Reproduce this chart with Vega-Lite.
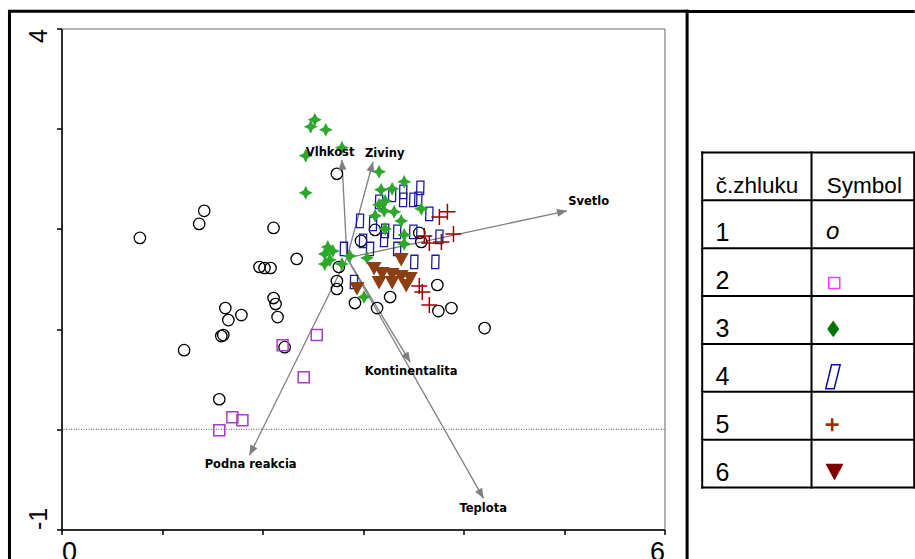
{
  "$schema": "https://vega.github.io/schema/vega-lite/v6.json",
  "background": "white",
  "padding": {"left": 6.5, "top": 7.5, "right": 0, "bottom": 0},
  "autosize": {"type": "pad"},
  "bounds": "flush",
  "spacing": 37.7,
  "config": {"view": {"stroke": null}, "font": "Liberation Sans"},
  "data": {"values": [{"one": 1}]},
  "datasets": {
    "pts": [
      {"c":1,"x":0.78,"y":1.91},{"c":1,"x":1.42,"y":2.18},{"c":1,"x":1.37,"y":2.05},{"c":1,"x":2.11,"y":2.01},{"c":1,"x":2.34,"y":1.70},{"c":1,"x":1.97,"y":1.62},{"c":1,"x":2.02,"y":1.61},{"c":1,"x":2.08,"y":1.61},{"c":1,"x":2.11,"y":1.31},{"c":1,"x":2.13,"y":1.25},{"c":1,"x":2.15,"y":1.12},{"c":1,"x":1.63,"y":1.21},{"c":1,"x":1.66,"y":1.09},{"c":1,"x":1.79,"y":1.14},{"c":1,"x":1.61,"y":0.94},{"c":1,"x":1.59,"y":0.93},{"c":1,"x":1.22,"y":0.79},{"c":1,"x":2.22,"y":0.82},{"c":1,"x":1.57,"y":0.30},{"c":1,"x":2.74,"y":2.55},{"c":1,"x":3.12,"y":1.99},{"c":1,"x":2.98,"y":1.88},{"c":1,"x":3.56,"y":1.96},{"c":1,"x":3.58,"y":1.87},{"c":1,"x":2.76,"y":1.62},{"c":1,"x":2.74,"y":1.48},{"c":1,"x":2.74,"y":1.40},{"c":1,"x":2.92,"y":1.26},{"c":1,"x":3.14,"y":1.21},{"c":1,"x":3.27,"y":1.32},{"c":1,"x":3.74,"y":1.44},{"c":1,"x":3.75,"y":1.18},{"c":1,"x":3.88,"y":1.21},{"c":1,"x":4.21,"y":1.01},
      {"c":2,"x":1.57,"y":-0.01},{"c":2,"x":1.70,"y":0.12},{"c":2,"x":1.80,"y":0.09},{"c":2,"x":2.20,"y":0.84},{"c":2,"x":2.54,"y":0.94},{"c":2,"x":2.41,"y":0.52},
      {"c":3,"x":2.52,"y":3.09},{"c":3,"x":2.48,"y":3.02},{"c":3,"x":2.63,"y":2.99},{"c":3,"x":2.79,"y":2.81},{"c":3,"x":2.43,"y":2.73},{"c":3,"x":2.43,"y":2.36},{"c":3,"x":3.16,"y":2.57},{"c":3,"x":3.41,"y":2.47},{"c":3,"x":3.18,"y":2.39},{"c":3,"x":3.29,"y":2.40},{"c":3,"x":3.22,"y":2.28},{"c":3,"x":3.16,"y":2.24},{"c":3,"x":3.21,"y":2.18},{"c":3,"x":3.31,"y":2.17},{"c":3,"x":3.12,"y":2.13},{"c":3,"x":3.38,"y":2.08},{"c":3,"x":3.58,"y":2.20},{"c":3,"x":3.22,"y":2.00},{"c":3,"x":3.41,"y":1.94},{"c":3,"x":3.41,"y":1.85},{"c":3,"x":2.65,"y":1.82},{"c":3,"x":2.70,"y":1.78},{"c":3,"x":2.62,"y":1.75},{"c":3,"x":2.67,"y":1.69},{"c":3,"x":2.62,"y":1.65},{"c":3,"x":2.79,"y":1.65},{"c":3,"x":2.87,"y":1.73},{"c":3,"x":3.04,"y":1.71},{"c":3,"x":3.01,"y":1.32},
      {"c":4,"x":3.57,"y":2.41},{"c":4,"x":3.40,"y":2.37},{"c":4,"x":3.29,"y":2.34},{"c":4,"x":3.16,"y":2.27},{"c":4,"x":3.40,"y":2.29},{"c":4,"x":3.50,"y":2.29},{"c":4,"x":3.55,"y":2.30},{"c":4,"x":3.66,"y":2.15},{"c":4,"x":2.97,"y":2.08},{"c":4,"x":3.10,"y":2.05},{"c":4,"x":3.22,"y":1.98},{"c":4,"x":3.34,"y":1.97},{"c":4,"x":3.50,"y":1.97},{"c":4,"x":3.76,"y":1.92},{"c":4,"x":3.00,"y":1.88},{"c":4,"x":3.07,"y":1.80},{"c":4,"x":3.21,"y":1.89},{"c":4,"x":2.81,"y":1.80},{"c":4,"x":3.34,"y":1.80},{"c":4,"x":3.51,"y":1.67},{"c":4,"x":3.72,"y":1.67},{"c":4,"x":2.91,"y":1.47},
      {"c":5,"x":3.76,"y":2.12},{"c":5,"x":3.84,"y":2.17},{"c":5,"x":3.61,"y":1.93},{"c":5,"x":3.66,"y":1.86},{"c":5,"x":3.78,"y":1.87},{"c":5,"x":3.90,"y":1.95},{"c":5,"x":3.56,"y":1.43},{"c":5,"x":3.59,"y":1.37},{"c":5,"x":3.66,"y":1.24},
      {"c":6,"x":3.38,"y":1.70},{"c":6,"x":3.11,"y":1.61},{"c":6,"x":3.19,"y":1.56},{"c":6,"x":3.29,"y":1.55},{"c":6,"x":3.38,"y":1.53},{"c":6,"x":3.47,"y":1.51},{"c":6,"x":3.16,"y":1.47},{"c":6,"x":3.29,"y":1.47},{"c":6,"x":3.43,"y":1.44},{"c":6,"x":2.94,"y":1.41}
    ],
    "arrows": [
      {"n":"Vlhkost","x":2.79,"y":2.69,"lx":2.673,"ly":2.757},
      {"n":"Ziviny","x":3.10,"y":2.67,"lx":3.216,"ly":2.744},
      {"n":"Svetlo","x":5.03,"y":2.18,"lx":5.246,"ly":2.265},
      {"n":"Kontinentalita","x":3.47,"y":0.67,"lx":3.479,"ly":0.569},
      {"n":"Teplota","x":4.20,"y":-0.69,"lx":4.196,"ly":-0.795},
      {"n":"Podna reakcia","x":1.87,"y":-0.26,"lx":1.882,"ly":-0.356}
    ],
    "hlines": [{"r":-1},{"r":0},{"r":1},{"r":2},{"r":3},{"r":4},{"r":5},{"r":6}],
    "vlines": [{"c":0},{"c":0.5156},{"c":1}],
    "rows": [{"k":1},{"k":2},{"k":3},{"k":4},{"k":5},{"k":6}]
  },
  "hconcat": [
    {
      "width": 603,
      "height": 501,
      "view": {"stroke": "#666", "strokeWidth": 1},
      "layer": [
        {
          "mark": {"type": "rule", "color": "black", "strokeWidth": 3},
          "encoding": {
            "x": {"datum": -0.5177, "type": "quantitative", "scale": {"domain": [0, 6], "nice": false, "zero": false},
              "axis": {"title": null, "values": [0,1,2,3,4,5,6], "labelExpr": "datum.value == 0 ? '0' : datum.value == 6 ? '6' : ''", "labelFlush": true, "labelOverlap": false, "labelFontSize": 27, "labelPadding": 5, "tickSize": 5, "grid": false, "domainColor": "black", "domainWidth": 1.5, "tickColor": "black", "tickWidth": 1.5, "labelColor": "black", "labelFont": "Liberation Sans"}},
            "y": {"datum": -1.30, "type": "quantitative", "scale": {"domain": [-1, 4], "nice": false, "zero": false},
              "axis": {"title": null, "values": [-1,0,1,2,3,4], "labelExpr": "datum.value == 4 ? '4\u2009' : datum.value == -1 ? '\u2009-1' : ''", "labelAngle": 270, "labelAlign": {"condition": {"test": "datum.value == 4", "value": "right"}, "value": "left"}, "labelBaseline": "alphabetic", "labelOverlap": false, "labelFontSize": 25, "labelPadding": 10, "tickSize": 5, "grid": false, "domainColor": "black", "domainWidth": 1.5, "tickColor": "black", "tickWidth": 1.5, "labelColor": "black", "labelFont": "Liberation Sans"}},
            "y2": {"datum": 4.187, "type": "quantitative"}
          }
        },
        {
          "mark": {"type": "rule", "color": "black", "strokeWidth": 3},
          "encoding": {
            "x": {"datum": 6.225, "type": "quantitative"},
            "y": {"datum": -1.30, "type": "quantitative"},
            "y2": {"datum": 4.187, "type": "quantitative"}
          }
        },
        {
          "mark": {"type": "rule", "color": "black", "strokeWidth": 3},
          "encoding": {
            "x": {"datum": -0.5177, "type": "quantitative"},
            "x2": {"datum": 6.24, "type": "quantitative"},
            "y": {"datum": 4.172, "type": "quantitative"}
          }
        },
        {
          "mark": {"type": "rule", "color": "#555", "strokeWidth": 1, "strokeDash": [1, 1.5]},
          "encoding": {"y": {"datum": 0, "type": "quantitative"}}
        },
        {
          "data": {"name": "arrows"},
          "mark": {"type": "rule", "color": "#7f7f7f", "strokeWidth": 1.3},
          "encoding": {
            "x": {"datum": 2.84, "type": "quantitative"},
            "y": {"datum": 1.71, "type": "quantitative"},
            "x2": {"field": "x", "type": "quantitative"},
            "y2": {"field": "y", "type": "quantitative"}
          }
        },
        {
          "data": {"name": "pts"},
          "transform": [{"filter": "datum.c == 1"}],
          "mark": {"type": "point", "shape": "circle", "filled": false, "color": "black", "strokeWidth": 1.3, "size": 130, "opacity": 1},
          "encoding": {"x": {"field": "x", "type": "quantitative"}, "y": {"field": "y", "type": "quantitative"}}
        },
        {
          "data": {"name": "pts"},
          "transform": [{"filter": "datum.c == 2"}],
          "mark": {"type": "point", "shape": "square", "filled": false, "color": "#a83bbf", "strokeWidth": 1.5, "size": 121, "opacity": 1},
          "encoding": {"x": {"field": "x", "type": "quantitative"}, "y": {"field": "y", "type": "quantitative"}}
        },
        {
          "data": {"name": "pts"},
          "transform": [{"filter": "datum.c == 4"}],
          "mark": {"type": "point", "shape": "M-0.55,1L-0.5,-1L0.55,-1L0.5,1Z", "filled": false, "color": "#1b1b9a", "strokeWidth": 1.3, "size": 180, "opacity": 1},
          "encoding": {"x": {"field": "x", "type": "quantitative"}, "y": {"field": "y", "type": "quantitative"}}
        },
        {
          "data": {"name": "pts"},
          "transform": [{"filter": "datum.c == 3"}],
          "mark": {"type": "point", "shape": "M0,-1L0.33,-0.33L1,0L0.33,0.33L0,1L-0.33,0.33L-1,0L-0.33,-0.33Z", "filled": true, "color": "#2ea82a", "size": 196, "opacity": 1},
          "encoding": {"x": {"field": "x", "type": "quantitative"}, "y": {"field": "y", "type": "quantitative"}}
        },
        {
          "data": {"name": "pts"},
          "transform": [{"filter": "datum.c == 5"}],
          "mark": {"type": "point", "shape": "M-1,0L1,0M0,-1L0,1", "filled": false, "color": "#990000", "strokeWidth": 1.5, "size": 256, "opacity": 1},
          "encoding": {"x": {"field": "x", "type": "quantitative"}, "y": {"field": "y", "type": "quantitative"}}
        },
        {
          "data": {"name": "pts"},
          "transform": [{"filter": "datum.c == 6"}],
          "mark": {"type": "point", "shape": "M-1,-0.8L1,-0.8L0,1Z", "filled": true, "color": "#8c3f12", "size": 225, "opacity": 1},
          "encoding": {"x": {"field": "x", "type": "quantitative"}, "y": {"field": "y", "type": "quantitative"}}
        },
        {
          "data": {"name": "arrows"},
          "transform": [{"calculate": "atan2((datum.x - 2.84) * 100.45, (datum.y - 1.71) * 100.2) * 180 / PI", "as": "ang"}],
          "mark": {"type": "point", "shape": "M0,0L-0.8,2L0.8,2Z", "filled": true, "color": "#7f7f7f", "size": 100, "opacity": 1, "strokeWidth": 0},
          "encoding": {
            "x": {"field": "x", "type": "quantitative"},
            "y": {"field": "y", "type": "quantitative"},
            "angle": {"field": "ang", "type": "quantitative", "scale": null}
          }
        },
        {
          "data": {"name": "arrows"},
          "mark": {"type": "text", "font": "DejaVu Sans", "fontWeight": "bold", "fontSize": 11.5, "color": "black", "align": "center", "baseline": "middle"},
          "encoding": {
            "x": {"field": "lx", "type": "quantitative"},
            "y": {"field": "ly", "type": "quantitative"},
            "text": {"field": "n", "type": "nominal"}
          }
        }
      ]
    },
    {
      "width": 212,
      "height": 459,
      "view": {"stroke": null},
      "layer": [
        {
          "mark": {"type": "rule", "color": "black", "strokeWidth": 3},
          "encoding": {
            "x": {"datum": -0.0726, "type": "quantitative", "scale": {"domain": [0, 1], "nice": false, "zero": false}, "axis": null},
            "x2": {"datum": 1.0024, "type": "quantitative"},
            "y": {"datum": -3.946, "type": "quantitative", "scale": {"domain": [-3.591, 6], "reverse": true, "nice": false, "zero": false}, "axis": null}
          }
        },
        {
          "data": {"name": "hlines"},
          "mark": {"type": "rule", "color": "black", "strokeWidth": 2, "strokeCap": "square"},
          "encoding": {
            "x": {"datum": 0, "type": "quantitative", "axis": null},
            "x2": {"datum": 1, "type": "quantitative"},
            "y": {"field": "r", "type": "quantitative", "axis": null}
          }
        },
        {
          "data": {"name": "vlines"},
          "mark": {"type": "rule", "color": "black", "strokeWidth": 2, "strokeCap": "square"},
          "encoding": {
            "x": {"field": "c", "type": "quantitative", "axis": null},
            "y": {"datum": -1, "type": "quantitative", "axis": null},
            "y2": {"datum": 6, "type": "quantitative"}
          }
        },
        {
          "mark": {"type": "text", "text": "č.zhluku", "font": "Liberation Sans", "fontSize": 22.5, "align": "left", "baseline": "alphabetic", "dy": -7, "color": "black"},
          "encoding": {
            "x": {"datum": 0.064, "type": "quantitative", "axis": null},
            "y": {"datum": 0, "type": "quantitative", "axis": null}
          }
        },
        {
          "mark": {"type": "text", "text": "Symbol", "font": "Liberation Sans", "fontSize": 22.5, "align": "left", "baseline": "alphabetic", "dy": -7, "color": "black"},
          "encoding": {
            "x": {"datum": 0.588, "type": "quantitative", "axis": null},
            "y": {"datum": 0, "type": "quantitative", "axis": null}
          }
        },
        {
          "data": {"name": "rows"},
          "mark": {"type": "text", "font": "Liberation Sans", "fontSize": 25, "align": "left", "baseline": "alphabetic", "dy": -7, "color": "black"},
          "encoding": {
            "x": {"datum": 0.063, "type": "quantitative", "axis": null},
            "y": {"field": "k", "type": "quantitative", "axis": null},
            "text": {"field": "k", "type": "nominal"}
          }
        },
        {
          "mark": {"type": "text", "text": "o", "font": "Liberation Sans", "fontStyle": "italic", "fontSize": 24, "align": "center", "baseline": "alphabetic", "dy": -9, "color": "black"},
          "encoding": {
            "x": {"datum": 0.615, "type": "quantitative", "axis": null},
            "y": {"datum": 1, "type": "quantitative", "axis": null}
          }
        },
        {
          "mark": {"type": "point", "shape": "square", "filled": false, "color": "#ff33ff", "strokeWidth": 1.5, "size": 121, "opacity": 1, "yOffset": -13},
          "encoding": {
            "x": {"datum": 0.623, "type": "quantitative", "axis": null},
            "y": {"datum": 2, "type": "quantitative", "axis": null}
          }
        },
        {
          "mark": {"type": "point", "shape": "M0,-1L0.72,0L0,1L-0.72,0Z", "filled": true, "color": "#007300", "size": 279, "opacity": 1, "yOffset": -15},
          "encoding": {
            "x": {"datum": 0.618, "type": "quantitative", "axis": null},
            "y": {"datum": 3, "type": "quantitative", "axis": null}
          }
        },
        {
          "mark": {"type": "point", "shape": "M-0.14,-1L0.58,-1L0.08,1L-0.62,1Z", "filled": false, "color": "#10109a", "strokeWidth": 1.5, "size": 576, "opacity": 1, "yOffset": -15},
          "encoding": {
            "x": {"datum": 0.618, "type": "quantitative", "axis": null},
            "y": {"datum": 4, "type": "quantitative", "axis": null}
          }
        },
        {
          "mark": {"type": "point", "shape": "M-1,-0.2L-0.2,-0.2L-0.2,-1L0.2,-1L0.2,-0.2L1,-0.2L1,0.2L0.2,0.2L0.2,1L-0.2,1L-0.2,0.2L-1,0.2Z", "filled": true, "color": "#993300", "size": 169, "opacity": 1, "yOffset": -15},
          "encoding": {
            "x": {"datum": 0.613, "type": "quantitative", "axis": null},
            "y": {"datum": 5, "type": "quantitative", "axis": null}
          }
        },
        {
          "mark": {"type": "point", "shape": "M-1,-0.85L1,-0.85L0,1Z", "filled": true, "color": "#800000", "size": 324, "opacity": 1, "yOffset": -16},
          "encoding": {
            "x": {"datum": 0.624, "type": "quantitative", "axis": null},
            "y": {"datum": 6, "type": "quantitative", "axis": null}
          }
        }
      ]
    }
  ]
}
